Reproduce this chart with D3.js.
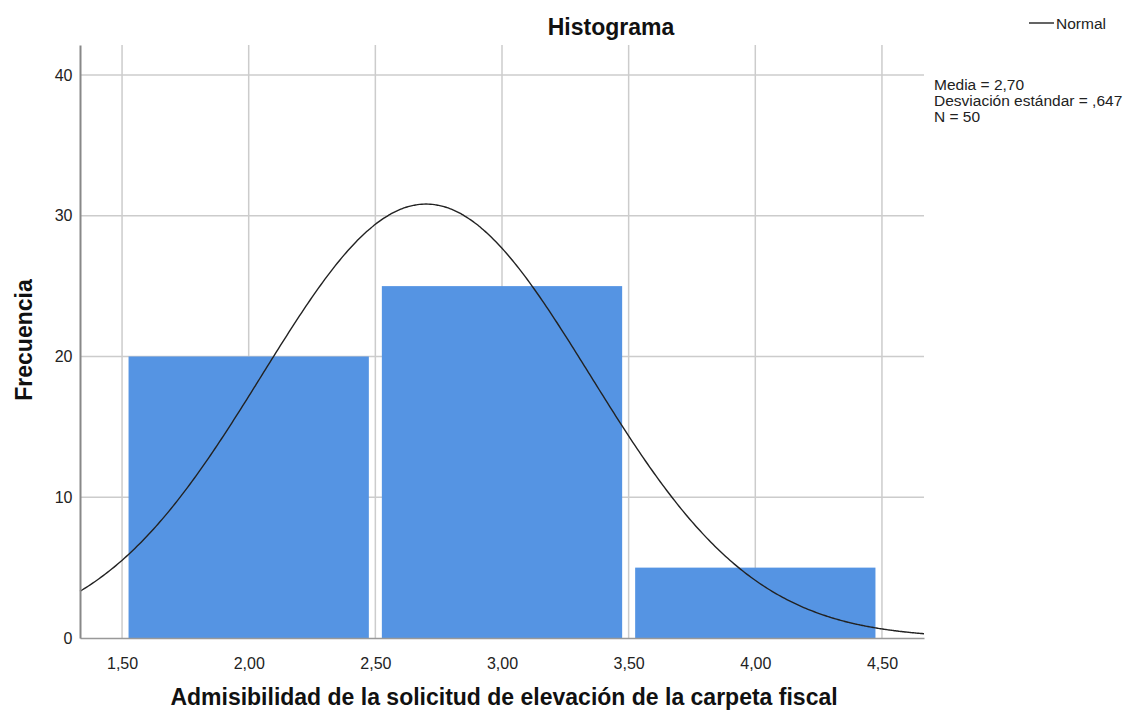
<!DOCTYPE html>
<html>
<head>
<meta charset="utf-8">
<script src="https://cdn.jsdelivr.net/npm/d3@7"></script>
<style>
  body { margin: 0; background: #fff; }
  svg { display: block; }
</style>
</head>
<body>
<div id="chart"></div>
<script>
// bins of the histogram (lower edge, upper edge) and their counts
var binStarts = [1.5, 2.5, 3.5];
var binEnds = [2.5, 3.5, 4.5];
var counts = [20, 25, 5];

// stats shown on the right
var mean = 2.70;
var stdDev = 0.647;
var nCases = 50;
var statLines = ["Media = 2,70", "Desviación estándar = ,647", "N = 50"];

// axis ticks
var xTicks = [1.5, 2.0, 2.5, 3.0, 3.5, 4.0, 4.5];
var yTicks = [0, 10, 20, 30, 40];

var attrs = {
    svgWidth: 1131,
    svgHeight: 710,
    plotLeft: 80,
    plotRight: 924,
    plotTop: 45,
    plotBottom: 638,
    barColor: '#5594e3',
    gridColor: '#cccccc',
    axisColor: '#999999',
    font: '"Liberation Sans", Arial, sans-serif'
};

var svg = d3.select('#chart').append('svg')
    .attr('width', attrs.svgWidth)
    .attr('height', attrs.svgHeight)
    .attr('font-family', attrs.font);

// scales
var x = d3.scaleLinear()
    .domain([1.334, 4.666])
    .range([attrs.plotLeft, attrs.plotRight]);

var y = d3.scaleLinear()
    .domain([0, 42.13])
    .range([attrs.plotBottom, attrs.plotTop]);

// grid
var grid = svg.append('g');
grid.selectAll('line.v').data(xTicks).enter().append('line')
    .attr('x1', d => x(d)).attr('x2', d => x(d))
    .attr('y1', attrs.plotTop).attr('y2', attrs.plotBottom)
    .attr('stroke', attrs.gridColor).attr('stroke-width', 1.5);
grid.selectAll('line.h').data(yTicks.filter(d => d > 0)).enter().append('line')
    .attr('x1', attrs.plotLeft).attr('x2', attrs.plotRight)
    .attr('y1', d => y(d)).attr('y2', d => y(d))
    .attr('stroke', attrs.gridColor).attr('stroke-width', 1.5);

// bars
var inset = 6.5;
svg.append('g').selectAll('rect').data(counts).enter().append('rect')
    .attr('x', (d, i) => x(binStarts[i]) + inset)
    .attr('width', (d, i) => x(binEnds[i]) - x(binStarts[i]) - 2 * inset)
    .attr('y', d => y(d))
    .attr('height', d => y(0) - y(d))
    .attr('fill', attrs.barColor);

// normal curve from mean / sd / N (bin width 1)
var binWidth = binEnds[0] - binStarts[0];
var xs = d3.range(0, 401).map(i => x.domain()[0] + (x.domain()[1] - x.domain()[0]) * i / 400);
var normal = xs.map(v => [v, nCases * binWidth * Math.exp(-0.5 * Math.pow((v - mean) / stdDev, 2)) / (stdDev * Math.sqrt(2 * Math.PI))]);

var line = d3.line()
    .x(d => x(d[0]))
    .y(d => y(d[1]))
    .curve(d3.curveBasis);

svg.append('path')
    .datum(normal)
    .attr('d', line)
    .attr('fill', 'none')
    .attr('stroke', '#222')
    .attr('stroke-width', 1.4);

// axes
var xAxis = d3.axisBottom(x).tickValues(xTicks).tickSize(0).tickPadding(20)
    .tickFormat(d => d3.format('.2f')(d).replace('.', ','));
var xg = svg.append('g')
    .attr('transform', 'translate(0,' + attrs.plotBottom + ')')
    .call(xAxis);
xg.select('.domain').attr('stroke', attrs.axisColor).attr('stroke-width', 1.5);
xg.selectAll('text').attr('font-size', 16).attr('fill', '#222').attr('font-family', attrs.font);

var yAxis = d3.axisLeft(y).tickValues(yTicks).tickSize(0).tickPadding(7.5);
var yg = svg.append('g')
    .attr('transform', 'translate(' + attrs.plotLeft + ',0)')
    .call(yAxis);
yg.select('.domain').attr('stroke', '#888').attr('stroke-width', 2);
yg.selectAll('text').attr('font-size', 16).attr('fill', '#222').attr('font-family', attrs.font);

// title and labels
svg.append('text')
    .attr('x', 611).attr('y', 35)
    .attr('text-anchor', 'middle')
    .attr('font-size', 23).attr('font-weight', 'bold').attr('fill', '#111')
    .text('Histograma');

svg.append('text')
    .attr('x', 504).attr('y', 705)
    .attr('text-anchor', 'middle')
    .attr('font-size', 23).attr('font-weight', 'bold').attr('fill', '#111')
    .text('Admisibilidad de la solicitud de elevación de la carpeta fiscal');

svg.append('text')
    .attr('transform', 'translate(32,340) rotate(-90)')
    .attr('text-anchor', 'middle')
    .attr('font-size', 23).attr('font-weight', 'bold').attr('fill', '#111')
    .text('Frecuencia');

// legend
svg.append('line')
    .attr('x1', 1029).attr('x2', 1054)
    .attr('y1', 23).attr('y2', 23)
    .attr('stroke', '#222').attr('stroke-width', 1.4);
svg.append('text')
    .attr('x', 1056).attr('y', 28.5)
    .attr('font-size', 15.5).attr('fill', '#222')
    .text('Normal');

// stats
svg.append('g').selectAll('text').data(statLines).enter().append('text')
    .attr('x', 934)
    .attr('y', (d, i) => 90 + i * 16)
    .attr('font-size', 15.5).attr('fill', '#222')
    .text(d => d);
</script>
</body>
</html>
